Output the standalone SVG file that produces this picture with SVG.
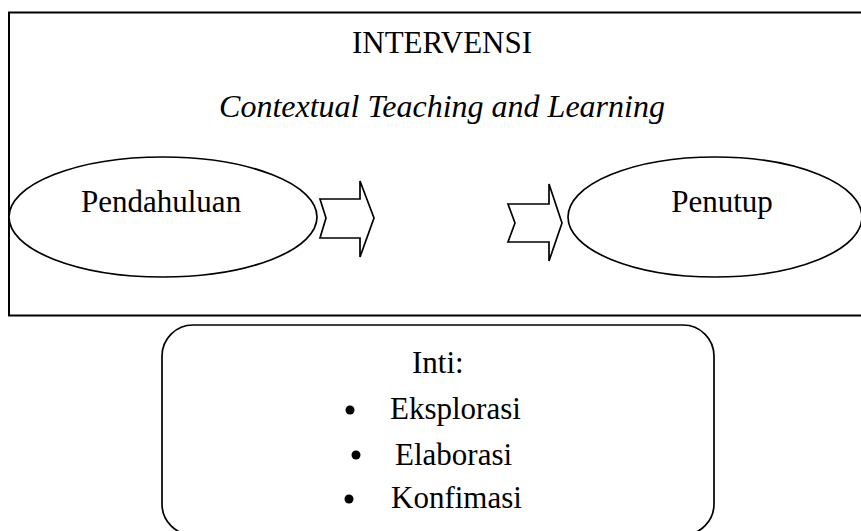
<svg xmlns="http://www.w3.org/2000/svg" width="861" height="531" viewBox="0 0 861 531">
<style>
.s{fill:#fff;stroke:#000;stroke-width:1.7}
.t{font-family:"Liberation Serif","Times New Roman",serif;font-size:31px;fill:#000}
.i{font-style:italic;font-size:32px}
</style>
<rect x="0" y="0" width="861" height="531" fill="#fff"/>
<g id="intervensi">
<rect x="9" y="12.5" width="870" height="303" fill="#fff" stroke="#000" stroke-width="2"/>
<text class="t" x="442" y="53" text-anchor="middle">INTERVENSI</text>
<text class="t i" x="442" y="117" text-anchor="middle">Contextual Teaching and Learning</text>
</g>
<g id="pendahuluan">
<ellipse class="s" cx="163" cy="217" rx="154" ry="60"/>
<text class="t" x="81" y="212">Pendahuluan</text>
</g>
<g id="penutup">
<ellipse class="s" cx="715" cy="217" rx="147" ry="60"/>
<text class="t" x="722" y="212" text-anchor="middle">Penutup</text>
</g>
<g id="connectors">
<polygon class="s" points="320,199 360,199 360,181 374,218 360,257 360,238 320,238 326,218"/>
<polygon class="s" points="508,204 549,204 549,184 562,223 549,261 549,242 508,242 515,223"/>
</g>
<g id="inti">
<rect class="s" x="162" y="325" width="552" height="210" rx="31" ry="31"/>
<text class="t" x="412" y="373">Inti:</text>
<circle cx="350" cy="410" r="4.5"/>
<text class="t" x="390" y="419">Eksplorasi</text>
<circle cx="356" cy="455" r="4.5"/>
<text class="t" x="395" y="465">Elaborasi</text>
<circle cx="349" cy="499" r="4.5"/>
<text class="t" x="391" y="508">Konfimasi</text>
</g>
</svg>
